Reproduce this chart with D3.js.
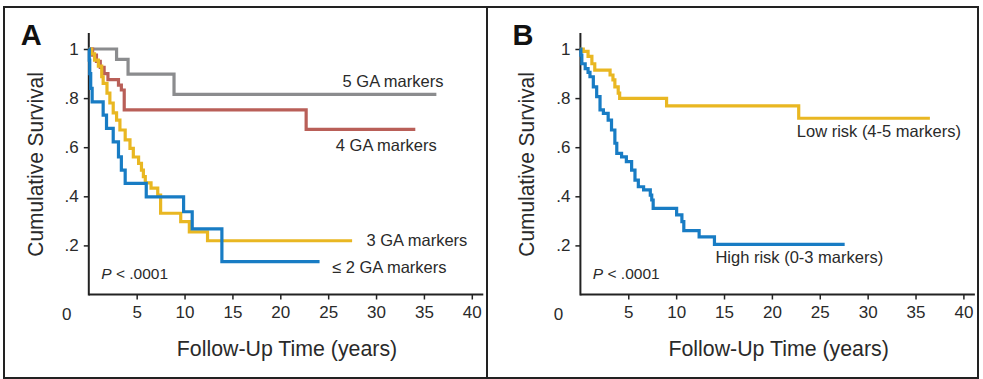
<!DOCTYPE html>
<html>
<head>
<meta charset="utf-8">
<script src="https://cdn.jsdelivr.net/npm/d3@7"></script>
<style>
  body { margin: 0; background: #fff; }
  text { font-family: "Liberation Sans", Arial, sans-serif; fill: #2a2a2a; }
  .title { font-family: "Liberation Sans Narrow", "Liberation Sans", Arial, sans-serif; }
</style>
</head>
<body>
<svg id="chart" width="983" height="379"></svg>
<script>
// Kaplan-Meier steps, [years, cumulative survival]
const gaFive = [[0, 1], [2.9, 0.958], [4.1, 0.898], [8.9, 0.815], [36.3, 0.815]];
const gaFour = [[0, 1], [0.4, 0.975], [0.8, 0.95], [1.2, 0.925], [1.6, 0.9], [2.0, 0.875],
  [3.1, 0.853], [3.4, 0.833], [3.7, 0.752], [22.7, 0.673], [34.1, 0.673]];
const gaThree = [[0, 1], [0.3, 0.98], [0.6, 0.955], [1.0, 0.93], [1.35, 0.887], [1.5, 0.86],
  [1.9, 0.82], [2.2, 0.78], [2.55, 0.74], [2.9, 0.71], [3.25, 0.67], [3.8, 0.63], [4.3, 0.595],
  [4.65, 0.56], [5.2, 0.534], [5.5, 0.507], [5.7, 0.48], [5.9, 0.455], [6.5, 0.433], [7.2, 0.405],
  [7.5, 0.331], [9.6, 0.297], [10.5, 0.255], [12.4, 0.219], [27.5, 0.219]];
const gaTwoOrLess = [[0, 1], [0.05, 0.955], [0.1, 0.9], [0.2, 0.84], [0.35, 0.785], [1.5, 0.731],
  [1.85, 0.677], [2.55, 0.622], [3.1, 0.561], [3.4, 0.507], [3.8, 0.453], [6.0, 0.398],
  [9.9, 0.337], [10.8, 0.267], [13.9, 0.134], [24.1, 0.134]];

const lowRisk = [[0, 1], [0.3, 0.99], [0.8, 0.97], [1.2, 0.94], [1.5, 0.914], [3.1, 0.894],
  [3.4, 0.874], [3.6, 0.846], [3.95, 0.82], [4.1, 0.799], [9.0, 0.768], [22.8, 0.718], [36.5, 0.718]];
const highRisk = [[0, 1], [0.05, 0.975], [0.15, 0.94], [0.5, 0.92], [0.8, 0.905], [1.0, 0.887],
  [1.35, 0.846], [1.7, 0.806], [2.05, 0.752], [2.4, 0.738], [2.9, 0.71], [3.25, 0.67], [3.6, 0.616],
  [3.8, 0.575], [4.3, 0.561], [4.8, 0.541], [5.35, 0.507], [5.7, 0.466], [6.05, 0.439], [6.6, 0.426],
  [7.3, 0.405], [7.45, 0.385], [7.6, 0.351], [10.05, 0.324], [10.6, 0.297], [10.8, 0.26],
  [12.4, 0.235], [14.0, 0.204], [27.6, 0.204]];

const xTicks = [5, 10, 15, 20, 25, 30, 35, 40];
const yTicks = [0.2, 0.4, 0.6, 0.8, 1];

const gray = "#8b8c8e", red = "#b95f58", yellow = "#e9b722", blue = "#187cc4";

const svg = d3.select("#chart");

// frames
svg.append("rect").attr("x", 4).attr("y", 7).attr("width", 483).attr("height", 371)
  .attr("fill", "none").attr("stroke", "#222").attr("stroke-width", 2);
svg.append("rect").attr("x", 487).attr("y", 7).attr("width", 491).attr("height", 371)
  .attr("fill", "none").attr("stroke", "#222").attr("stroke-width", 2);

function panel(left, letter, series, labels) {
  const x = d3.scaleLinear().domain([0, 40]).range([left, left + 383]);
  const y = d3.scaleLinear().domain([0, 1]).range([294.5, 49]);
  const g = svg.append("g");

  // axes
  const xAxis = g.append("g").attr("transform", `translate(0,${y(0)})`)
    .call(d3.axisBottom(x).tickValues(xTicks).tickSize(5).tickPadding(6));
  const yAxis = g.append("g").attr("transform", `translate(${x(0)},0)`)
    .call(d3.axisLeft(y).tickValues(yTicks).tickSize(5).tickPadding(5)
      .tickFormat(d => d === 1 ? "1" : d3.format(".1f")(d).replace("0.", ".")));
  [xAxis, yAxis].forEach(a => {
    a.select(".domain").remove();
    a.selectAll("line").attr("stroke", "#222").attr("stroke-width", 1.5);
    a.selectAll("text").attr("font-size", 17).attr("fill", "#2a2a2a")
      .style("font-family", '"Liberation Sans", Arial, sans-serif');
  });
  g.append("line").attr("x1", x(0)).attr("x2", x(0)).attr("y1", y(0) + 1).attr("y2", y(1.065))
    .attr("stroke", "#222").attr("stroke-width", 2);
  g.append("line").attr("x1", x(0)).attr("x2", x(41.2)).attr("y1", y(0)).attr("y2", y(0))
    .attr("stroke", "#222").attr("stroke-width", 2);
  g.append("text").attr("x", x(0) - 22).attr("y", 320).attr("text-anchor", "middle")
    .attr("font-size", 17).text("0");

  // curves
  const line = d3.line().x(d => x(d[0])).y(d => y(d[1])).curve(d3.curveStepAfter);
  series.forEach(s => {
    g.append("path").datum(s.values).attr("d", line)
      .attr("fill", "none").attr("stroke", s.color).attr("stroke-width", 3.2);
  });

  labels.forEach(l => {
    g.append("text").attr("x", x(l.t)).attr("y", y(l.v)).attr("font-size", 16.5).text(l.text);
  });

  // titles
  g.append("text").attr("x", left - 68).attr("y", 45).attr("font-size", 29)
    .attr("font-weight", "bold").style("fill", "#111").text(letter);
  g.append("text").attr("class", "title").attr("font-size", 22)
    .attr("text-anchor", "middle")
    .attr("transform", `translate(${left - 46},${y(0.53)}) rotate(-90) scale(0.95,1)`)
    .text("Cumulative Survival");
  g.append("text").attr("class", "title").attr("font-size", 22)
    .attr("text-anchor", "middle")
    .attr("transform", `translate(${x(20.7)},356) scale(0.97,1)`)
    .text("Follow-Up Time (years)");
  const p = g.append("text").attr("x", x(1.3)).attr("y", y(0.064)).attr("font-size", 15.5);
  p.append("tspan").attr("font-style", "italic").text("P");
  p.append("tspan").text(" < .0001");
}

panel(88.8, "A",
  [{ values: gaFive, color: gray }, { values: gaFour, color: red },
   { values: gaThree, color: yellow }, { values: gaTwoOrLess, color: blue }],
  [{ t: 26.5, v: 0.845, text: "5 GA markers" }, { t: 25.8, v: 0.585, text: "4 GA markers" },
   { t: 29, v: 0.197, text: "3 GA markers" }, { t: 25.4, v: 0.088, text: "\u2264 2 GA markers" }]);

panel(580.4, "B",
  [{ values: lowRisk, color: yellow }, { values: highRisk, color: blue }],
  [{ t: 22.6, v: 0.643, text: "Low risk (4-5 markers)" },
   { t: 14.1, v: 0.127, text: "High risk (0-3 markers)" }]);
</script>
</body>
</html>
